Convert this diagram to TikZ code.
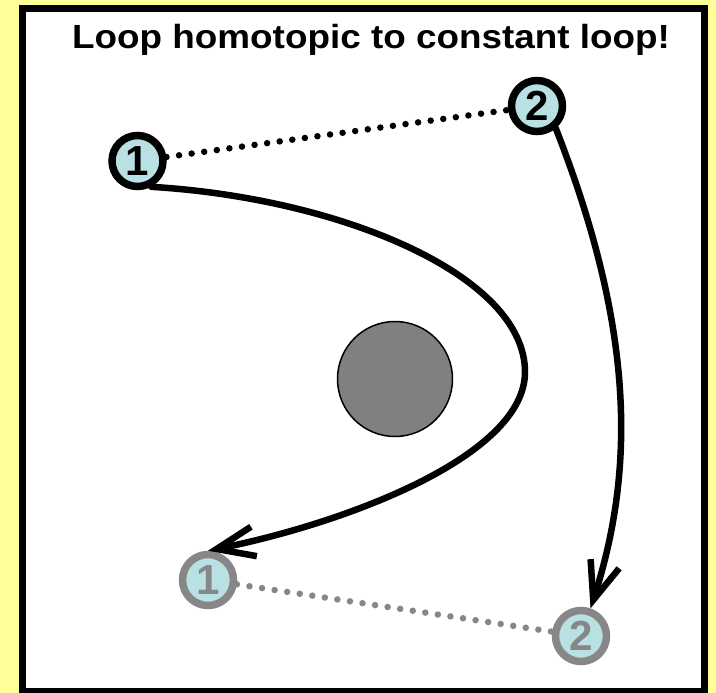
\documentclass[tikz,border=0pt]{standalone}
\usepackage{fontspec}
\setmainfont{Liberation Sans}
\usetikzlibrary{arrows.meta}
\definecolor{bgyellow}{HTML}{FFFF99}
\definecolor{nodeblue}{HTML}{B9E0E3}
\definecolor{ghost}{HTML}{878787}
\definecolor{hole}{HTML}{808080}
\tikzset{
  pt/.style={circle, minimum size=51pt, inner sep=0pt, line width=7.5pt, fill=nodeblue,
    font=\fontsize{42}{44}\selectfont\bfseries},
  ptblack/.style={pt, draw=black, text=black},
  ptghost/.style={pt, draw=ghost, text=ghost},
  dots/.style={line width=6.5pt, line cap=round, dash pattern=on 0pt off 12.7pt},
  loopline/.style={line width=6.5pt, line cap=round,
    -{Straight Barb[length=38pt,width=30pt,line width=6.5pt]}}
}
\begin{document}
\begin{tikzpicture}[x=1pt,y=-1pt]
\useasboundingbox (0,0) rectangle (716,693);
\fill[bgyellow] (0,0) rectangle (716,693);
\draw[line width=6.5pt, fill=white] (22.5,8.5) rectangle (704.5,691);
\node[anchor=base, font=\fontsize{33.5}{38}\selectfont\bfseries] (title) at (371,48.5)
  {\scalebox{1.1}[1]{Loop homotopic to constant loop!}};
\node[circle, draw=black, line width=1.5pt, fill=hole, minimum size=115pt, inner sep=0pt] (hole) at (395,379) {};
\node[ptblack] (a1) at (137.5,161) {\raisebox{-1pt}{1}};
\node[ptblack] (a2) at (537,106) {\raisebox{-1pt}{2}};
\node[ptghost] (b1) at (208,580) {\raisebox{-1pt}{1}};
\node[ptghost] (b2) at (581,636) {\raisebox{-1pt}{2}};
\draw[dots, black] (a1) -- (a2);
\draw[dots, ghost] (b1) -- (b2);
\draw[loopline] (a1.-62) .. controls (340,198) and (525,275) .. (525,372)
  .. controls (525,455) and (350,522) .. (b1.north);
\draw[loopline] (a2.-50) .. controls (635,330) and (635,470) .. (b2.71);
\end{tikzpicture}
\end{document}
